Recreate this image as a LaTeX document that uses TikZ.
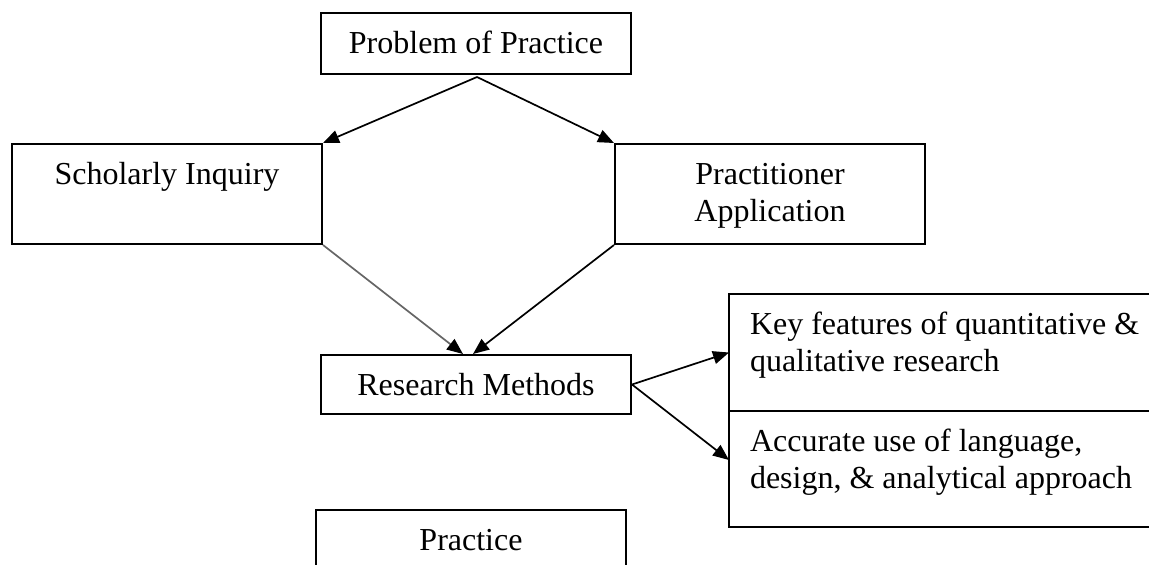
\documentclass[tikz,border=0pt]{standalone}
\usepackage{fontspec}
\setmainfont{Liberation Serif}
\usetikzlibrary{arrows.meta,positioning}

\newcommand{\sidetext}[1]{\makebox[389pt][l]{\begin{tabular}[t]{@{}l@{}}#1\end{tabular}}}

\tikzset{
  box/.style={draw, line width=2pt, minimum width=310pt, inner xsep=0pt,
    inner ysep=0pt, text height=40pt, anchor=north},
  sidebox/.style={draw, line width=2pt, minimum width=431pt, inner xsep=21pt,
    inner ysep=0pt, outer sep=0pt, text height=40pt, anchor=north west},
  link/.style={line width=1.7pt, -{Triangle[length=16pt,width=13pt]}}
}

\begin{document}
\begin{tikzpicture}[x=1pt,y=-1pt,font=\fontsize{32}{37}\selectfont]
  \path[use as bounding box, clip] (0,0) rectangle (1149,565);

  % top of the chart
  \node[box, text depth=21pt] (problem) at (476,12) {Problem of Practice};
  \coordinate (split) at (477,77);
  \node[box, text depth=60pt] (scholarly) at (167,143) {Scholarly Inquiry};
  \node[box, text depth=60pt] (practitioner) at (770,143)
    {\begin{tabular}[t]{@{}c@{}}Practitioner\\Application\end{tabular}};

  % middle and bottom
  \node[box, text depth=19pt] (research) at (476,354) {Research Methods};
  \node[box, text depth=60pt] (practice) at (471,509) {Practice};

  % boxes on the right
  \node[sidebox, text depth=77pt] (features) at (729,294)
    {\sidetext{Key features of quantitative \&\\qualitative research}};
  \node[sidebox, text depth=76pt] (language) at (features.south west)
    {\sidetext{Accurate use of language,\\design, \& analytical approach}};

  % arrows
  \draw[link] (split) -- (scholarly.north east);
  \draw[link] (split) -- (practitioner.north west);
  \draw[link, black!60, -{Triangle[length=16pt,width=13pt,black]}]
    (scholarly.south east) -- ([xshift=-13pt]research.north);
  \draw[link] (practitioner.south west) -- ([xshift=-3pt]research.north);
  \draw[link] (research.east) -- (features.west);
  \draw[link] (research.east) -- ([yshift=9pt]language.west);
\end{tikzpicture}
\end{document}
